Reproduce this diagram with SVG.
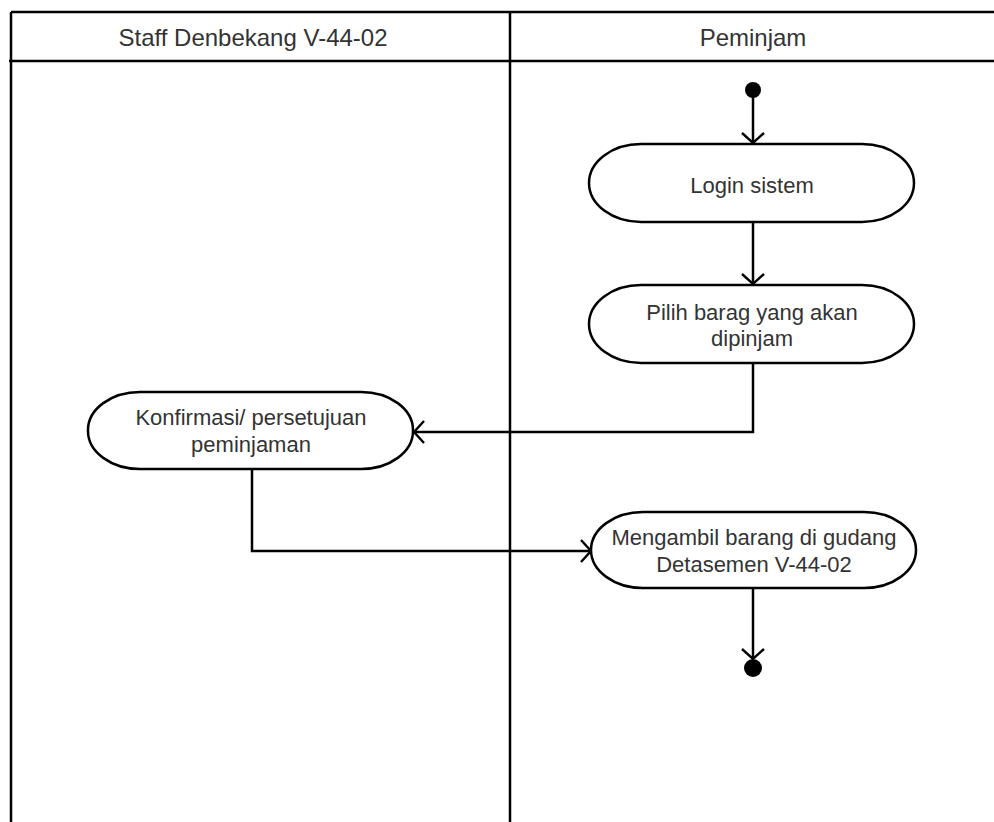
<svg xmlns="http://www.w3.org/2000/svg" width="994" height="822" viewBox="0 0 994 822">
  <style>
    .lane { fill: none; stroke: #000; stroke-width: 2.5; }
    .act { fill: #fff; stroke: #000; stroke-width: 2.5; }
    .edge { fill: none; stroke: #000; stroke-width: 2.5; }
    .lbl { font-family: "Liberation Sans", Arial, sans-serif; font-size: 22px; fill: #333; text-anchor: middle; }
    .hdr { font-family: "Liberation Sans", Arial, sans-serif; font-size: 24px; fill: #333; text-anchor: middle; }
  </style>
  <defs>
    <!-- open V arrowhead -->
    <marker id="open" viewBox="0 0 14 24" refX="12" refY="12" markerWidth="14" markerHeight="24" markerUnits="userSpaceOnUse" orient="auto">
      <path d="M2,1 L12,12 L2,23" fill="none" stroke="#000" stroke-width="2.4"/>
    </marker>
  </defs>
  <rect width="994" height="822" fill="#fff"/>

  <!-- swimlanes -->
  <g id="lanes">
    <path class="lane" d="M11,12 H994 M11,12 V822 M510,12 V822 M9,61 H994"/>
    <text class="hdr" x="253" y="46">Staff Denbekang V-44-02</text>
    <text class="hdr" x="753" y="46">Peminjam</text>
  </g>

  <!-- connectors -->
  <g id="connectors">
    <path class="edge" d="M753,96 V143" marker-end="url(#open)"/>
    <path class="edge" d="M753,222 V284" marker-end="url(#open)"/>
    <path class="edge" d="M753,363 V432 H414" marker-end="url(#open)"/>
    <path class="edge" d="M252,469 V551 H591" marker-end="url(#open)"/>
    <path class="edge" d="M753,588 V659" marker-end="url(#open)"/>
  </g>

  <g id="start">
    <circle cx="753" cy="90" r="8" fill="#000"/>
  </g>

  <g id="login">
    <rect class="act" x="589" y="144" width="325" height="78" rx="52" ry="39"/>
    <text class="lbl" x="752" y="193">Login sistem</text>
  </g>

  <g id="pilih">
    <rect class="act" x="589" y="285" width="325" height="78" rx="52" ry="39"/>
    <text class="lbl" x="752" y="320">Pilih barag yang akan</text>
    <text class="lbl" x="752" y="346">dipinjam</text>
  </g>

  <g id="konfirmasi">
    <rect class="act" x="88" y="392" width="325" height="77" rx="52" ry="38"/>
    <text class="lbl" x="251" y="425">Konfirmasi/ persetujuan</text>
    <text class="lbl" x="251" y="452">peminjaman</text>
  </g>

  <g id="mengambil">
    <rect class="act" x="591" y="512" width="325" height="76" rx="52" ry="38"/>
    <text class="lbl" x="754" y="545">Mengambil barang di gudang</text>
    <text class="lbl" x="754" y="572">Detasemen V-44-02</text>
  </g>

  <g id="end">
    <circle cx="753" cy="668" r="9" fill="#000"/>
  </g>
</svg>
